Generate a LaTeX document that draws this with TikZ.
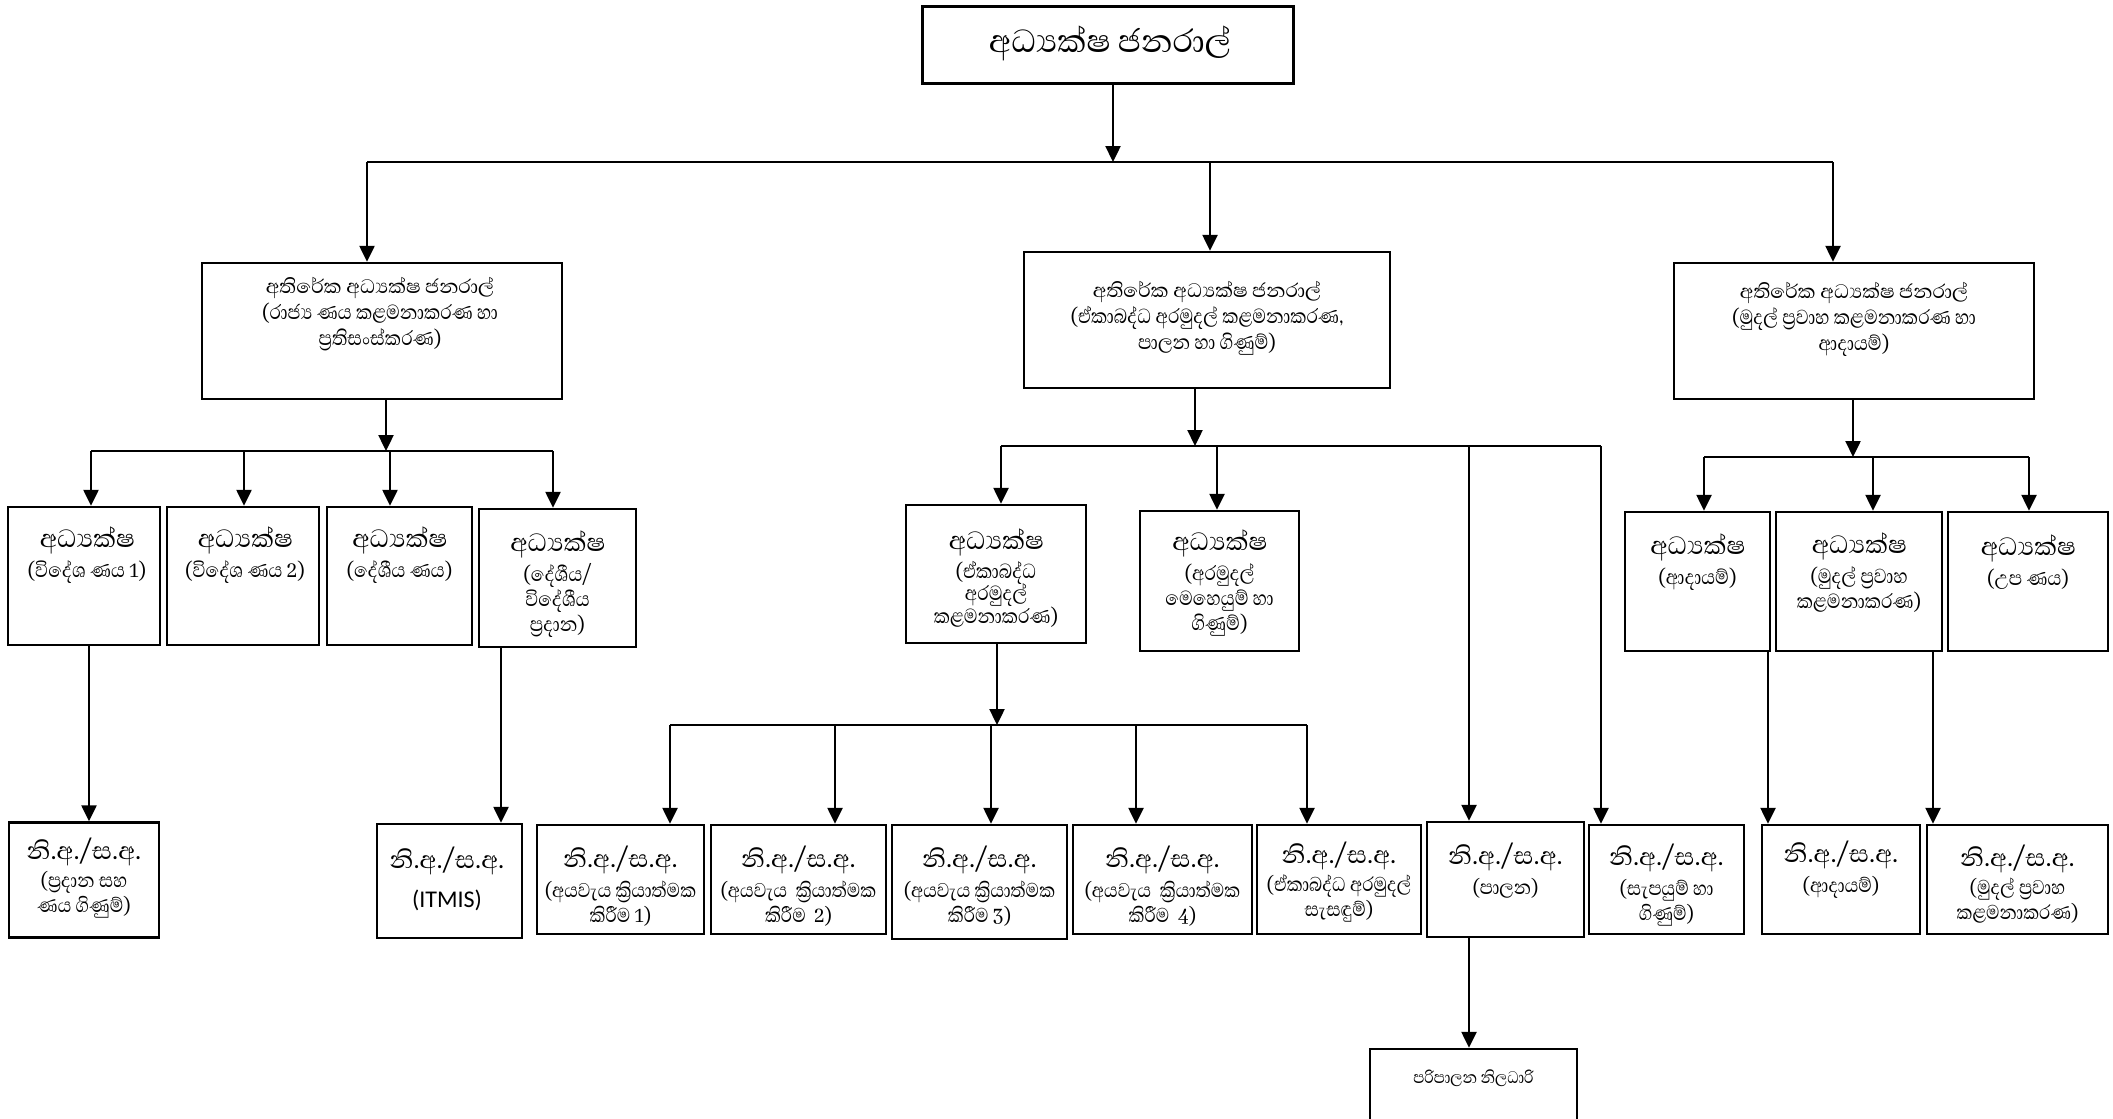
\documentclass[tikz,border=0pt]{standalone}
\usepackage{fontspec}
\setmainfont{Liberation Serif}
\newfontfamily\sinfont[Script=Sinhala]{Abhaya Libre}
\newfontfamily\sinsub[Script=Sinhala, FakeStretch=0.88]{Abhaya Libre}
\newfontfamily\calib{Carlito}
\usetikzlibrary{arrows.meta}
\newcommand\obox[5]{\node[box, minimum width=#4pt, minimum height=#5pt] (#1) at (#2,#3) {};}
\def\zwj{^^^^200d}
\newcommand\hb[1]{{\sinfont\fontsize{25}{27}\selectfont #1}}
\newcommand\hd[1]{{\sinfont\fontsize{32}{34}\selectfont #1}}
\newcommand\na{{\sinfont\fontsize{31}{33}\selectfont නි.අ./ස.අ.}}
\begin{document}
\begin{tikzpicture}[x=1pt,y=-1pt,
  box/.style={draw, line width=2.4pt, inner sep=0pt, rectangle},
  ln/.style={line width=2.4pt},
  arr/.style={line width=2.4pt, -{Triangle[width=15pt,length=16pt]}},
  ttl/.style={align=center, inner sep=0pt, font={\sinfont\fontsize{41}{46}\selectfont}},
  tb/.style={align=center, inner sep=0pt, font={\sinsub\fontsize{26}{26}\selectfont}},
  tc/.style={align=center, inner sep=0pt, font={\sinsub\fontsize{26}{25}\selectfont}},
  td/.style={align=center, inner sep=0pt, font={\sinsub\fontsize{25.5}{25}\selectfont}},
]
\useasboundingbox (0,0) rectangle (2113,1119);
\clip (0,0) rectangle (2113,1119);

% ---------- boxes ----------
\obox{T}{1108}{45}{371}{77}
\obox{L}{382}{331}{360}{136}
\obox{M}{1207}{320}{366}{136}
\obox{R}{1854}{331}{360}{136}

\obox{b1}{84}{576}{152}{138}
\obox{b2}{243}{576}{152}{138}
\obox{b3}{399.5}{576}{145}{138}
\obox{b4}{557.5}{578}{157}{138}

\obox{M1}{996}{574}{180}{138}
\obox{M2}{1219.5}{581}{159}{140}

\obox{r1}{1697.5}{581.5}{145}{139}
\obox{r2}{1859}{581.5}{166}{139}
\obox{r3}{2028}{581.5}{160}{139}

\obox{c0}{84}{880}{150}{115}
\obox{cI}{449.5}{881}{145}{114}
\obox{c1}{620.5}{879.5}{167}{109}
\obox{c2}{798.5}{879.5}{175}{109}
\obox{c3}{979.5}{882}{175}{114}
\obox{c4}{1162.5}{879.5}{179}{109}
\obox{c5}{1339}{879.5}{164}{109}
\obox{c6}{1505.5}{879.5}{157}{115}
\obox{c7}{1666.5}{879.5}{155}{109}
\obox{c8}{1841}{879.5}{158}{109}
\obox{c9}{2017.5}{879.5}{181}{109}

\obox{P}{1473.5}{1092}{207}{86}

% ---------- texts ----------
\node[ttl] (tT) at (1110,43) {අධ්\zwj යක්ෂ ජනරාල්};
\node[tb] (tL) at (380,314) {\hb{අතිරේක අධ්\zwj යක්ෂ ජනරාල්}\\(රාජ්\zwj ය ණය කළමනාකරණ හා\\ප්\zwj රතිසංස්කරණ)};
\node[tb] (tM) at (1207,318) {\hb{අතිරේක අධ්\zwj යක්ෂ ජනරාල්}\\(ඒකාබද්ධ අරමුදල් කළමනාකරණ,\\පාලන හා ගිණුම්)};
\node[tb] (tR) at (1854,319) {\hb{අතිරේක අධ්\zwj යක්ෂ ජනරාල්}\\(මුදල් ප්\zwj රවාහ කළමනාකරණ හා\\ආදායම්)};

\node[tc] (tb1) at (87,555) {\hd{අධ්\zwj යක්ෂ}\\[5pt](විදේශ ණය 1)};
\node[tc] (tb2) at (245,555) {\hd{අධ්\zwj යක්ෂ}\\[5pt](විදේශ ණය 2)};
\node[tc] (tb3) at (399.5,555) {\hd{අධ්\zwj යක්ෂ}\\[5pt](දේශීය ණය)};
\node[tc] (tb4) at (557.5,584) {\hd{අධ්\zwj යක්ෂ}\\[5pt](දේශීය/\\විදේශීය\\ප්\zwj රදාන)};

\node[tc] (tM1) at (996,578) {\hd{අධ්\zwj යක්ෂ}\\[4pt](ඒකාබද්ධ\\[-3pt]අරමුදල්\\[-2pt]කළමනාකරණ)};
\node[tc] (tM2) at (1219.5,583) {\hd{අධ්\zwj යක්ෂ}\\[5pt](අරමුදල්\\මෙහෙයුම් හා\\ගිණුම්)};

\node[tc] (tr1) at (1697.5,562) {\hd{අධ්\zwj යක්ෂ}\\[5pt](ආදායම්)};
\node[tc] (tr2) at (1859,573) {\hd{අධ්\zwj යක්ෂ}\\[5pt](මුදල් ප්\zwj රවාහ\\කළමනාකරණ)};
\node[tc] (tr3) at (2028,562) {\hd{අධ්\zwj යක්ෂ}\\[5pt](උප ණය)};

\node[td] (tc0) at (84,878) {\na\\[3pt](ප්\zwj රදාන සහ\\ණය ගිණුම්)};
\node[td] (tcI) at (447,879) {\na\\[14pt]{\calib\fontsize{24}{26}\selectfont (ITMIS)}};
\node[td] (tc1) at (620.5,886) {\na\\[5pt](අයවැය ක්\zwj රියාත්මක\\කිරීම 1)};
\node[td] (tc2) at (798.5,886) {\na\\[5pt](අයවැය~ ක්\zwj රියාත්මක\\කිරීම~ 2)};
\node[td] (tc3) at (979.5,886) {\na\\[5pt](අයවැය ක්\zwj රියාත්මක\\කිරීම 3)};
\node[td] (tc4) at (1162.5,886) {\na\\[5pt](අයවැය~ ක්\zwj රියාත්මක\\කිරීම~ 4)};
\node[td] (tc5) at (1339,882) {\na\\[3pt](ඒකාබද්ධ අරමුදල්\\සැසඳුම්)};
\node[td] (tc6) at (1505.5,871) {\na\\[5pt](පාලන)};
\node[td] (tc7) at (1666.5,885) {\na\\[5pt](සැපයුම් හා\\ගිණුම්)};
\node[td] (tc8) at (1841,870) {\na\\[5pt](ආදායම්)};
\node[td] (tc9) at (2017.5,884) {\na\\[3pt](මුදල් ප්\zwj රවාහ\\කළමනාකරණ)};
\node[td, font={\sinsub\fontsize{21.5}{24}\selectfont}] (tP) at (1473.5,1078) {පරිපාලන නිලධාරි};

% ---------- junction coordinates ----------
\coordinate (jT) at (1113,162);
\coordinate (jL) at (367,162);
\coordinate (jM) at (1210,162);
\coordinate (jR) at (1833,162);

\coordinate (aL) at (386,451);
\coordinate (a1) at (91,451);
\coordinate (a2) at (244,451);
\coordinate (a3) at (390,451);
\coordinate (a4) at (553,451);

\coordinate (mj) at (1195,446);
\coordinate (m1) at (1001,446);
\coordinate (m2) at (1217,446);
\coordinate (m3) at (1469,446);
\coordinate (m4) at (1601,446);

\coordinate (kj) at (997,725);
\coordinate (k1) at (670,725);
\coordinate (k2) at (835,725);
\coordinate (k3) at (991,725);
\coordinate (k4) at (1136,725);
\coordinate (k5) at (1307,725);

\coordinate (rj) at (1853,457);
\coordinate (q1) at (1704,457);
\coordinate (q2) at (1873,457);
\coordinate (q3) at (2029,457);

% ---------- connectors ----------
\draw[arr] (T.south -| jT) -- (jT);
\draw[ln] (jL) -- (jR);
\draw[arr] (jL) -- (jL |- L.north);
\draw[arr] (jM) -- (jM |- M.north);
\draw[arr] (jR) -- (jR |- R.north);

\draw[arr] (L.south -| aL) -- (aL);
\draw[ln] (a1) -- (a4);
\draw[arr] (a1) -- (a1 |- b1.north);
\draw[arr] (a2) -- (a2 |- b2.north);
\draw[arr] (a3) -- (a3 |- b3.north);
\draw[arr] (a4) -- (a4 |- b4.north);
\draw[arr] ([xshift=5pt]b1.south) -- ([xshift=5pt]b1.south |- c0.north);
\draw[arr] ([xshift=-56.5pt]b4.south) -- ([xshift=-56.5pt]b4.south |- cI.north);

\draw[arr] (M.south -| mj) -- (mj);
\draw[ln] (m1) -- (m4);
\draw[arr] (m1) -- (m1 |- M1.north);
\draw[arr] (m2) -- (m2 |- M2.north);
\draw[arr] (m3) -- (m3 |- c6.north);
\draw[arr] (m4) -- (m4 |- c7.north);

\draw[arr] (M1.south -| kj) -- (kj);
\draw[ln] (k1) -- (k5);
\draw[arr] (k1) -- (k1 |- c1.north);
\draw[arr] (k2) -- (k2 |- c2.north);
\draw[arr] (k3) -- (k3 |- c3.north);
\draw[arr] (k4) -- (k4 |- c4.north);
\draw[arr] (k5) -- (k5 |- c5.north);

\draw[arr] (R.south -| rj) -- (rj);
\draw[ln] (q1) -- (q3);
\draw[arr] (q1) -- (q1 |- r1.north);
\draw[arr] (q2) -- (q2 |- r2.north);
\draw[arr] (q3) -- (q3 |- r3.north);
\draw[arr] ([xshift=70.5pt]r1.south) -- ([xshift=70.5pt]r1.south |- c8.north);
\draw[arr] ([xshift=74pt]r2.south) -- ([xshift=74pt]r2.south |- c9.north);

\draw[arr] ([xshift=-36.5pt]c6.south) -- ([xshift=-36.5pt]c6.south |- P.north);
\end{tikzpicture}
\end{document}
